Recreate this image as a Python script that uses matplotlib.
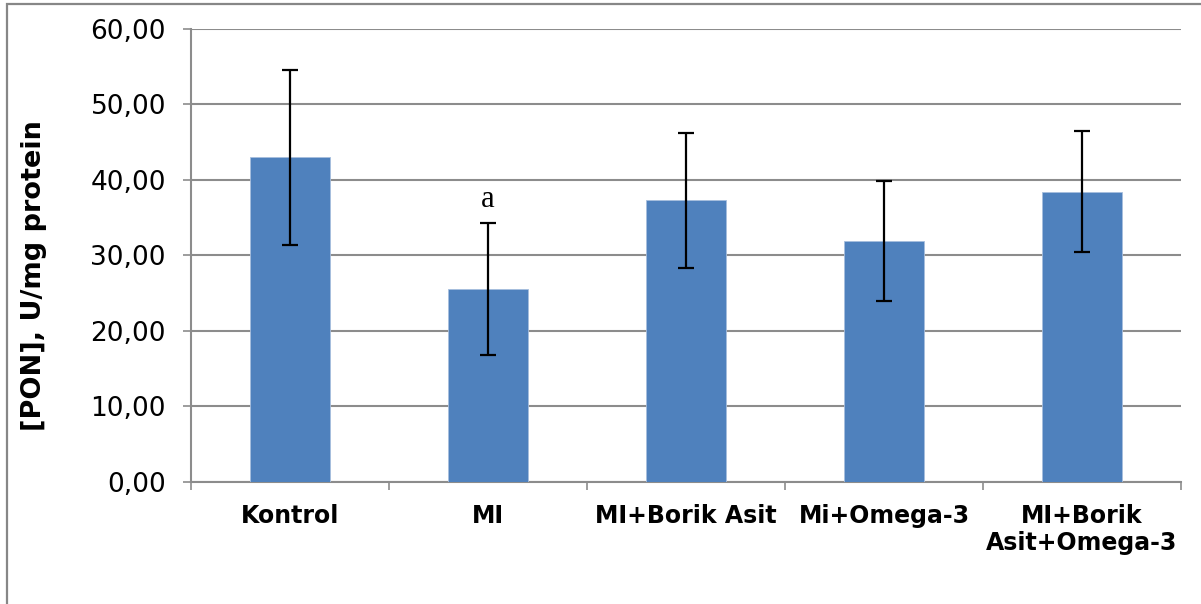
import matplotlib
matplotlib.use("Agg")
import matplotlib.pyplot as plt
from matplotlib.patches import Rectangle
from matplotlib.ticker import FuncFormatter, FixedLocator
import numpy as np

# PON activity per group (mean and SD)
groups = ["Kontrol", "MI", "MI+Borik Asit", "Mi+Omega-3", "MI+Borik\nAsit+Omega-3"]
means = [43.0, 25.55, 37.3, 31.9, 38.45]
errors = [11.6, 8.8, 8.95, 8.0, 8.0]
significance = ["", "a", "", "", ""]

y_ticks = [0, 10, 20, 30, 40, 50, 60]

W, H = 1201, 604
fig = plt.figure(figsize=(W / 100, H / 100), dpi=100)
fig.patch.set_facecolor("white")

ax = fig.add_axes([191 / W, 1 - 481.7 / H, (1181 - 191) / W, (481.7 - 29) / H])

x = np.arange(len(groups))
ax.bar(x, means, width=0.4, color="#4F81BD", edgecolor="#A7BEDD",
       linewidth=0.6, zorder=3)
ax.errorbar(x, means, yerr=errors, fmt="none", ecolor="black",
            elinewidth=1.6, capsize=6, capthick=1.6, zorder=4)

for xi, m, e, s in zip(x, means, errors, significance):
    if s:
        ax.text(xi, m + e + 2.0, s, ha="center", va="baseline",
                fontsize=22, family="Liberation Serif", color="black", zorder=5)

ax.set_xlim(-0.5, len(groups) - 0.5)
ax.set_ylim(0, 60)
ax.set_yticks(y_ticks)
ax.yaxis.set_major_formatter(FuncFormatter(lambda v, p: f"{v:.2f}".replace(".", ",")))
ax.grid(axis="y", color="#8C8C8C", linewidth=1.5, zorder=0)
ax.set_axisbelow(True)

ax.set_xticks(x)
ax.set_xticklabels(groups, fontsize=17, fontweight="bold", linespacing=1.15)
ax.xaxis.set_minor_locator(FixedLocator(np.arange(-0.5, len(groups), 1.0)))
ax.tick_params(axis="x", which="major", length=0, pad=16)
ax.tick_params(axis="x", which="minor", length=6, width=1.2, color="#8C8C8C",
               direction="out")
ax.tick_params(axis="y", which="major", length=6, width=1.2, color="#8C8C8C",
               direction="out", labelsize=19, pad=12)

for side in ("top", "right"):
    ax.spines[side].set_visible(False)
for side in ("left", "bottom"):
    ax.spines[side].set_color("#8C8C8C")
    ax.spines[side].set_linewidth(1.5)

ax.set_ylabel("[PON], U/mg protein", fontsize=19.5, fontweight="bold")
ax.yaxis.set_label_coords(47 / W, 1 - 276 / H, transform=fig.transFigure)

# chart-area frame
fig.patches.append(Rectangle((7 / W, -0.1), 1.2, 1.1 - 4 / H,
                             transform=fig.transFigure, fill=False,
                             edgecolor="#878787", linewidth=1.6))

fig.savefig("out.png", dpi=100, facecolor="white")
